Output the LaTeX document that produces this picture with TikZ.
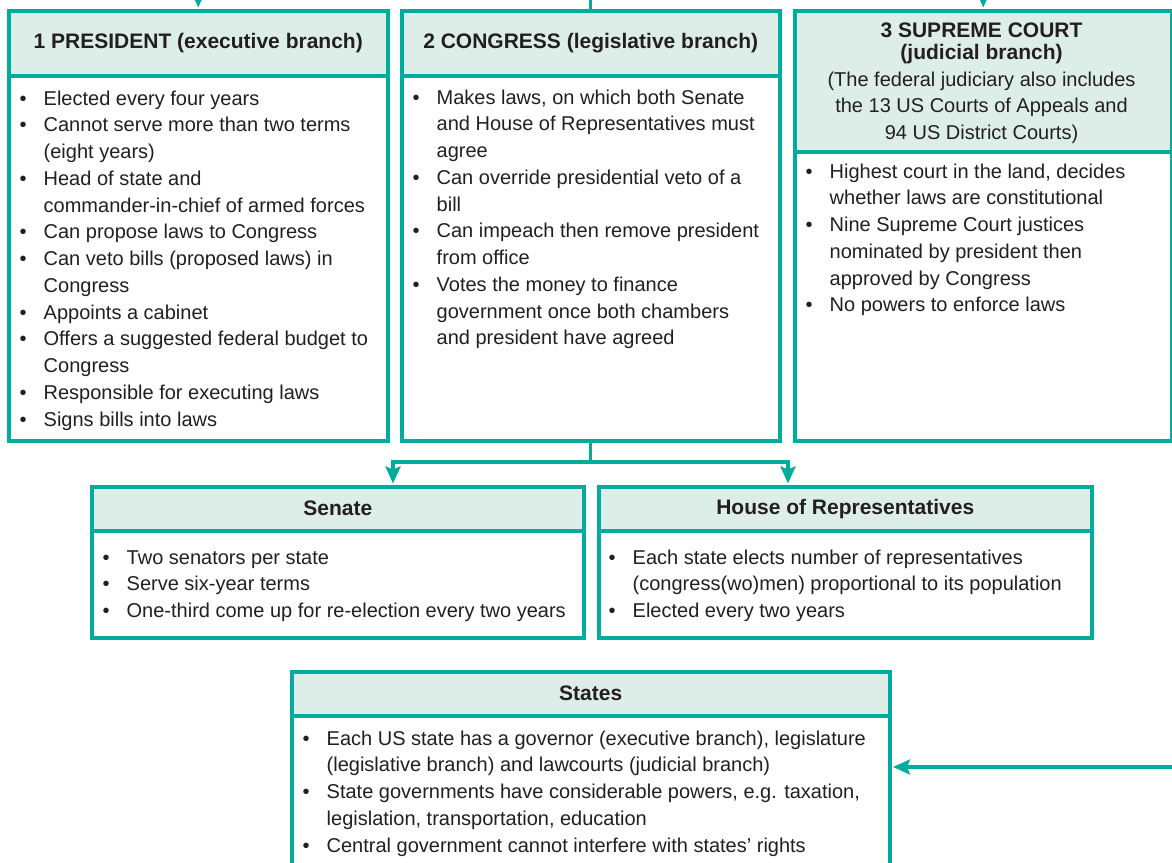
\documentclass[tikz,border=0pt]{standalone}
\usepackage{fontspec}
\setmainfont{Liberation Sans}
\usetikzlibrary{arrows.meta}
\definecolor{tealline}{RGB}{0,172,158}
\definecolor{hdrfill}{RGB}{221,238,232}
\definecolor{txtcol}{RGB}{35,31,32}
\newlength{\bind}
\setlength{\bind}{24pt}
\newcommand{\bitm}[1]{\par\noindent\hangindent=\bind\hangafter=1\makebox[\bind][l]{\textbullet}#1}
\newcommand{\blk}[1]{\vtop{\hsize=600pt\parindent=0pt\parskip=0pt\fontsize{20}{26.75}\selectfont #1\par}}
\tikzset{
  boxbody/.style={draw=tealline, line width=3.5pt, fill=white, anchor=north west, inner sep=0pt},
  boxhead/.style={draw=tealline, line width=3.5pt, fill=hdrfill, anchor=north west, inner sep=0pt,
    font=\fontsize{21}{24}\selectfont\bfseries, text=txtcol},
  bodytext/.style={anchor=base west, inner sep=0pt, text=txtcol},
  conn/.style={draw=tealline, line width=3.3pt},
  tip/.style={-{Stealth[length=17pt,width=15pt,inset=3pt]}}
}
\begin{document}
\begin{tikzpicture}[x=1pt,y=-1pt]
\useasboundingbox (0,0) rectangle (1172,862);
\clip (0,0) rectangle (1172,862);
% President
\node[boxbody, minimum width=379pt, minimum height=430pt] (pres) at (7,9) {};
\node[boxhead, minimum width=379pt, minimum height=65pt] (presh) at (7,9) {1 PRESIDENT (executive branch)};
\node[bodytext] (prest) at (19.5,105) {\blk{%
\bitm{Elected every four years}
\bitm{Cannot serve more than two terms\newline(eight years)}
\bitm{Head of state and\newline commander-in-chief of armed forces}
\bitm{Can propose laws to Congress}
\bitm{Can veto bills (proposed laws) in\newline Congress}
\bitm{Appoints a cabinet}
\bitm{Offers a suggested federal budget to\newline Congress}
\bitm{Responsible for executing laws}
\bitm{Signs bills into laws}}};
% Congress
\node[boxbody, minimum width=378pt, minimum height=430pt] (cong) at (400,9) {};
\node[boxhead, minimum width=378pt, minimum height=65pt] (congh) at (400,9) {2 CONGRESS (legislative branch)};
\node[bodytext] (congt) at (412.5,104) {\blk{%
\bitm{Makes laws, on which both Senate\newline and House of Representatives must\newline agree}
\bitm{Can override presidential veto of a\newline bill}
\bitm{Can impeach then remove president\newline from office}
\bitm{Votes the money to finance\newline government once both chambers\newline and president have agreed}}};
% Supreme court
\node[boxbody, minimum width=377pt, minimum height=430pt] (court) at (793,9) {};
\node[boxhead, minimum width=377pt, minimum height=141pt] (courth) at (793,9) {};
\node[anchor=base, inner sep=0pt, text=txtcol] (courtht) at (981.5,37) {\vtop{\hsize=370pt\centering
\fontsize{21}{22.5}\selectfont\bfseries 3 SUPREME COURT\par (judicial branch)\par
\fontsize{20}{26.5}\selectfont\mdseries (The federal judiciary also includes\par the 13 US Courts of Appeals and\par 94 US District Courts)\par}};
\node[bodytext] (courtt) at (805.5,178) {\blk{%
\bitm{Highest court in the land, decides\newline whether laws are constitutional}
\bitm{Nine Supreme Court justices\newline nominated by president then\newline approved by Congress}
\bitm{No powers to enforce laws}}};
% Senate
\node[boxbody, minimum width=492pt, minimum height=151pt] (sen) at (90,485) {};
\node[boxhead, minimum width=492pt, minimum height=44pt] (senh) at (90,485) {Senate};
\node[bodytext] (sent) at (102.5,564) {\blk{%
\bitm{Two senators per state}
\bitm{Serve six-year terms}
\bitm{One-third come up for re-election every two years}}};
% House
\node[boxbody, minimum width=493pt, minimum height=151pt] (hou) at (597,485) {};
\node[boxhead, minimum width=493pt, minimum height=44pt] (houh) at (597,485) {House of Representatives};
\node[bodytext] (hout) at (608.5,564) {\blk{%
\bitm{Each state elects number of representatives\newline (congress(wo)men) proportional to its population}
\bitm{Elected every two years}}};
% States
\node[boxbody, minimum width=598pt, minimum height=220pt] (sta) at (290,670) {};
\node[boxhead, minimum width=598pt, minimum height=44pt] (stah) at (290,670) {States};
\node[bodytext] (stat) at (302.5,745) {\blk{%
\bitm{Each US state has a governor (executive branch), legislature\newline (legislative branch) and lawcourts (judicial branch)}
\bitm{State governments have considerable powers, e.g. taxation,\newline legislation, transportation, education}
\bitm{Central government cannot interfere with states’ rights}}};
% incoming connectors from above
\draw[conn, tip, shorten >=1.5pt] (pres.north) ++(0,-40) -- (pres.north);
\draw[conn] (cong.north) ++(0,-40) -- (cong.north);
\draw[conn, tip, shorten >=1.5pt] (court.north) ++(0,-40) -- (court.north);
% congress to chambers
\coordinate (sa) at (393,462);
\coordinate (ha) at (788,462);
\draw[conn] (cong.south) -- (cong.south |- sa);
\draw[conn, {Stealth[length=17pt,width=15pt,inset=3pt]}-{Stealth[length=17pt,width=15pt,inset=3pt]}, shorten <=1.5pt, shorten >=1.5pt, line join=miter]
  (sa |- sen.north) -- (sa) -- (ha) -- (ha |- hou.north);
% into states
\coordinate (sin) at (1185,767);
\draw[conn, tip, shorten >=1.5pt] (sin) -- (sin -| sta.east);
\end{tikzpicture}
\end{document}
